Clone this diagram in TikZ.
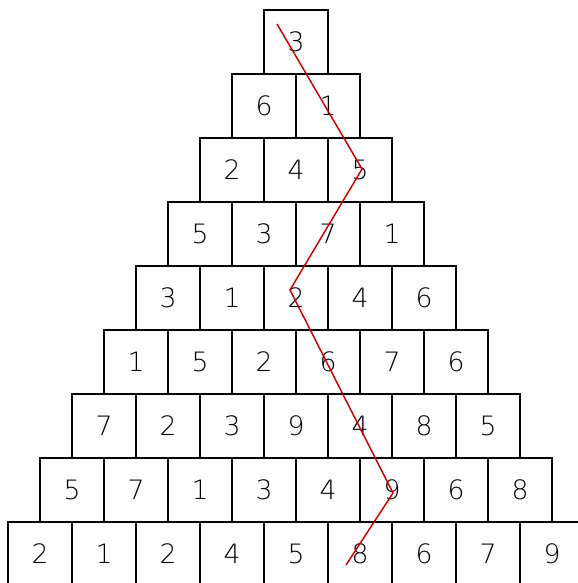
\documentclass[tikz,border=0pt]{standalone}
\usepackage{fontspec}
\newfontfamily\digitfont{DejaVu Sans ExtraLight}
\usetikzlibrary{positioning,calc}
\definecolor{pathred}{RGB}{204,0,0}

\begin{document}
\begin{tikzpicture}[x=0.75pt, y=0.75pt]
  \tikzset{
      cell/.style={draw, line width=1.1pt, minimum size=48pt, inner sep=0pt, outer sep=0pt, font=\digitfont\fontsize{20}{20}\selectfont},
      pathline/.style={draw=pathred, line width=1.1pt}
  }
  \clip (-296, 42) rectangle (282, -541);

  % row 1
  \node[cell] (c11) at (0, 0) {3};
  % row 2
  \node[cell] (c21) at (-32, -64) {6};
  \node[cell, right=0pt of c21] (c22) {1};
  % row 3
  \node[cell] (c31) at (-64, -128) {2};
  \node[cell, right=0pt of c31] (c32) {4};
  \node[cell, right=0pt of c32] (c33) {5};
  % row 4
  \node[cell] (c41) at (-96, -192) {5};
  \node[cell, right=0pt of c41] (c42) {3};
  \node[cell, right=0pt of c42] (c43) {7};
  \node[cell, right=0pt of c43] (c44) {1};
  % row 5
  \node[cell] (c51) at (-128, -256) {3};
  \node[cell, right=0pt of c51] (c52) {1};
  \node[cell, right=0pt of c52] (c53) {2};
  \node[cell, right=0pt of c53] (c54) {4};
  \node[cell, right=0pt of c54] (c55) {6};
  % row 6
  \node[cell] (c61) at (-160, -320) {1};
  \node[cell, right=0pt of c61] (c62) {5};
  \node[cell, right=0pt of c62] (c63) {2};
  \node[cell, right=0pt of c63] (c64) {6};
  \node[cell, right=0pt of c64] (c65) {7};
  \node[cell, right=0pt of c65] (c66) {6};
  % row 7
  \node[cell] (c71) at (-192, -384) {7};
  \node[cell, right=0pt of c71] (c72) {2};
  \node[cell, right=0pt of c72] (c73) {3};
  \node[cell, right=0pt of c73] (c74) {9};
  \node[cell, right=0pt of c74] (c75) {4};
  \node[cell, right=0pt of c75] (c76) {8};
  \node[cell, right=0pt of c76] (c77) {5};
  % row 8
  \node[cell] (c81) at (-224, -448) {5};
  \node[cell, right=0pt of c81] (c82) {7};
  \node[cell, right=0pt of c82] (c83) {1};
  \node[cell, right=0pt of c83] (c84) {3};
  \node[cell, right=0pt of c84] (c85) {4};
  \node[cell, right=0pt of c85] (c86) {9};
  \node[cell, right=0pt of c86] (c87) {6};
  \node[cell, right=0pt of c87] (c88) {8};
  % row 9
  \node[cell] (c91) at (-256, -512) {2};
  \node[cell, right=0pt of c91] (c92) {1};
  \node[cell, right=0pt of c92] (c93) {2};
  \node[cell, right=0pt of c93] (c94) {4};
  \node[cell, right=0pt of c94] (c95) {5};
  \node[cell, right=0pt of c95] (c96) {8};
  \node[cell, right=0pt of c96] (c97) {6};
  \node[cell, right=0pt of c97] (c98) {7};
  \node[cell, right=0pt of c98] (c99) {9};

  % zigzag path
  \draw[pathline] ($(c11)+(-19,18)$) -- ($(c33)+(2,1)$) -- ($(c53)+(-6,8)$)
      -- ($(c86)+(1,-3)$) -- ($(c96)+(-14,-11)$);
\end{tikzpicture}
\end{document}
